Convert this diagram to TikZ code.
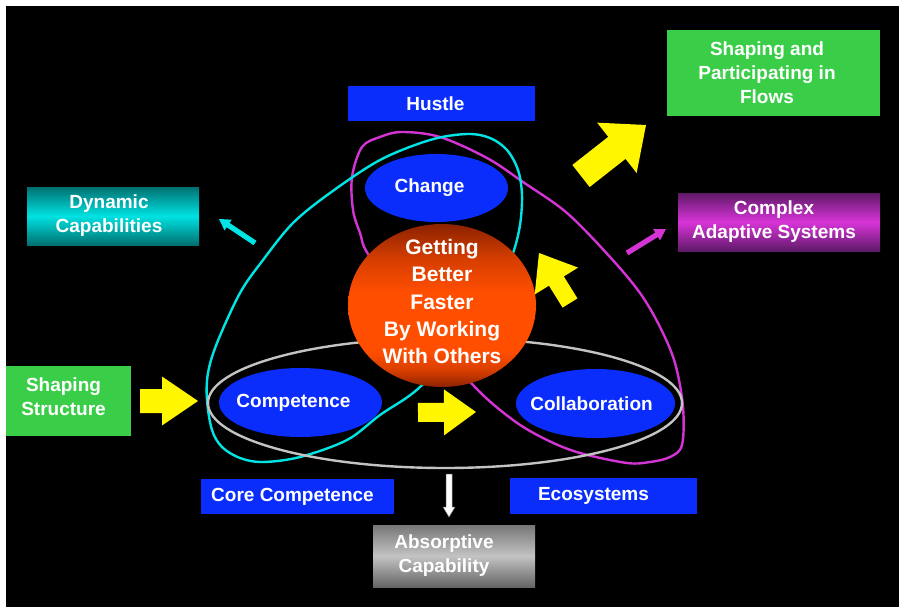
\documentclass[tikz,border=0pt]{standalone}
\usepackage{fontspec}
\setmainfont{Liberation Sans}
\usetikzlibrary{calc,shapes.geometric}
\definecolor{bgblue}{RGB}{10,45,252}
\definecolor{bggreen}{RGB}{58,206,72}
\definecolor{ayellow}{RGB}{255,246,0}
\definecolor{lcyan}{RGB}{0,228,228}
\definecolor{lmag}{RGB}{212,52,212}
\definecolor{lgray}{RGB}{195,195,195}
\definecolor{tealdark}{RGB}{0,112,112}
\definecolor{tealbright}{RGB}{0,226,226}
\definecolor{purpdark}{RGB}{95,25,105}
\definecolor{purpbright}{RGB}{216,52,216}
\definecolor{graydark}{RGB}{100,100,100}
\definecolor{graybright}{RGB}{195,195,195}
\definecolor{sphdark}{RGB}{140,34,0}
\definecolor{sphmid}{RGB}{215,62,0}
\definecolor{sphorange}{RGB}{255,78,0}
\pgfdeclareverticalshading{sphereshade}{100bp}{color(0bp)=(sphdark); color(25bp)=(sphdark); color(30bp)=(sphmid); color(36bp)=(sphorange); color(54bp)=(sphorange); color(64bp)=(sphmid); color(75bp)=(sphdark); color(100bp)=(sphdark)}
\newcommand\blockarrow[6]{%
  \coordinate (hb) at ($(#2)!#5pt!(#1)$);
  \fill[#6] ($(#1)!#3pt!90:(#2)$) -- ($(hb)!#3pt!90:(#2)$) -- ($(hb)!#4pt!90:(#2)$) -- (#2)
     -- ($(hb)!#4pt!-90:(#2)$) -- ($(hb)!#3pt!-90:(#2)$) -- ($(#1)!#3pt!-90:(#2)$) -- cycle;}
\begin{document}
\begin{tikzpicture}[x=1pt,y=-1pt,
  lbl/.style={text=white, font=\fontsize{19}{24}\selectfont\bfseries, align=center},
  bigl/.style={text=white, font=\fontsize{21}{27.2}\selectfont\bfseries, align=center},
  boxn/.style={rectangle, inner sep=0pt},
  oval/.style={ellipse, fill=bgblue, inner sep=0pt},
  loop/.style={line width=2.4pt, line join=round},
  yarrow/.style={fill=ayellow}]
\useasboundingbox (0,0) rectangle (899,607);
\fill[white] (0,0) rectangle (899,607);
\fill[black] (6,6) rectangle (899,607);

% loops
\draw[loop, lmag] plot[smooth cycle, tension=0.55] coordinates {
 (402,132) (440,137) (487,158) (523,182) (567,213) (610,257) (640,293) (660,327)
 (675,363) (683,407) (682,445) (670,457) (650,462) (627,463) (580,453) (547,440)
 (513,420) (473,385) (420,320) (370,257) (360,233) (353,210) (352,177) (362,147) (380,137)};
\draw[loop, lcyan] plot[smooth cycle, tension=0.55] coordinates {
 (467,134) (490,138) (507,150) (518,170) (522,195) (520,225) (513,253) (500,280)
 (465,335) (420,387) (380,415) (347,440) (300,457) (263,462) (240,458) (222,447)
 (212,430) (207,400) (208,373) (217,343) (240,293) (263,260) (293,223) (330,193)
 (380,160) (430,140)};
\draw[lgray, line width=2.4pt] (445,403) ellipse [x radius=237pt, y radius=65pt];

% ovals
\node[oval, minimum width=143pt, minimum height=68pt,
  label={[lbl, xshift=-7pt]center:Change}] (change) at (436.5,188) {};
\node[oval, minimum width=163pt, minimum height=69pt,
  label={[lbl, xshift=-7pt]center:Competence}] (comp) at (300.5,402.5) {};
\node[oval, minimum width=159pt, minimum height=69pt,
  label={[lbl, xshift=-4pt]center:Collaboration}] (collab) at (595.5,403.5) {};

% core sphere
\node[ellipse, inner sep=0pt, minimum width=188pt, minimum height=163pt, shading=sphereshade,
  label={[bigl, yshift=4pt]center:{Getting\\Better\\Faster\\By Working\\With Others}}] (core) at (442,305.5) {};

% boxes
\node[boxn, fill=bgblue, minimum width=187pt, minimum height=35pt,
  label={[lbl, xshift=-6pt]center:Hustle}] (hustle) at (441.5,103.5) {};
\node[boxn, fill=bggreen, minimum width=213pt, minimum height=86pt,
  label={[lbl, xshift=-6.5pt]center:{Shaping and\\Participating in\\Flows}}] (flows) at (773.5,73) {};
\node[boxn, top color=purpdark, bottom color=purpdark, middle color=purpbright, minimum width=202pt, minimum height=58pt,
  label={[lbl, xshift=-5pt]center:{Complex\\Adaptive Systems}}] (cas) at (779,222) {};
\node[boxn, top color=tealdark, bottom color=tealdark, middle color=tealbright, minimum width=172pt, minimum height=58pt,
  label={[lbl, xshift=-4pt]center:{Dynamic\\Capabilities}}] (dyn) at (113,216) {};
\node[boxn, fill=bggreen, minimum width=125pt, minimum height=70pt,
  label={[lbl, xshift=-5pt, yshift=4pt]center:{Shaping\\Structure}}] (sstruct) at (68.5,401) {};
\node[boxn, fill=bgblue, minimum width=193pt, minimum height=35pt,
  label={[lbl, xshift=-5pt]center:Core Competence}] (corecomp) at (297.5,496.5) {};
\node[boxn, fill=bgblue, minimum width=187pt, minimum height=36pt,
  label={[lbl, xshift=-10pt]center:Ecosystems}] (eco) at (603.5,496) {};
\node[boxn, top color=graydark!80!graybright, bottom color=graydark, middle color=graybright, minimum width=162pt, minimum height=62pt,
  label={[lbl, xshift=-10pt]center:{Absorptive\\Capability}}] (absorb) at (454,556) {};

% block arrows
\coordinate (a1s) at (140,401);  \coordinate (a1t) at (198,401);
\coordinate (a2s) at (418,412.5); \coordinate (a2t) at (476,412);
\coordinate (a3s) at (570,303);  \coordinate (a3t) at (539,253);
\coordinate (a4s) at (581,176);  \coordinate (a4t) at (646,125);
\coordinate (a5s) at (255,243);  \coordinate (a5t) at (219,219);
\coordinate (a6s) at (627,253);  \coordinate (a6t) at (666,229);
\coordinate (a7s) at (449,474);  \coordinate (a7t) at (449,517);
\blockarrow{a1s}{a1t}{12}{24.5}{36}{yarrow}
\blockarrow{a2s}{a2t}{9.5}{23}{32}{yarrow}
\blockarrow{a3s}{a3t}{8.75}{25.5}{33}{yarrow}
\blockarrow{a4s}{a4t}{14}{32}{37}{yarrow}
\blockarrow{a5s}{a5t}{2.6}{6.5}{11}{fill=lcyan}
\blockarrow{a6s}{a6t}{2.6}{6.5}{11}{fill=lmag}
\blockarrow{a7s}{a7t}{3}{6}{10}{fill=white, draw=gray, line width=0.5pt}
\end{tikzpicture}
\end{document}
